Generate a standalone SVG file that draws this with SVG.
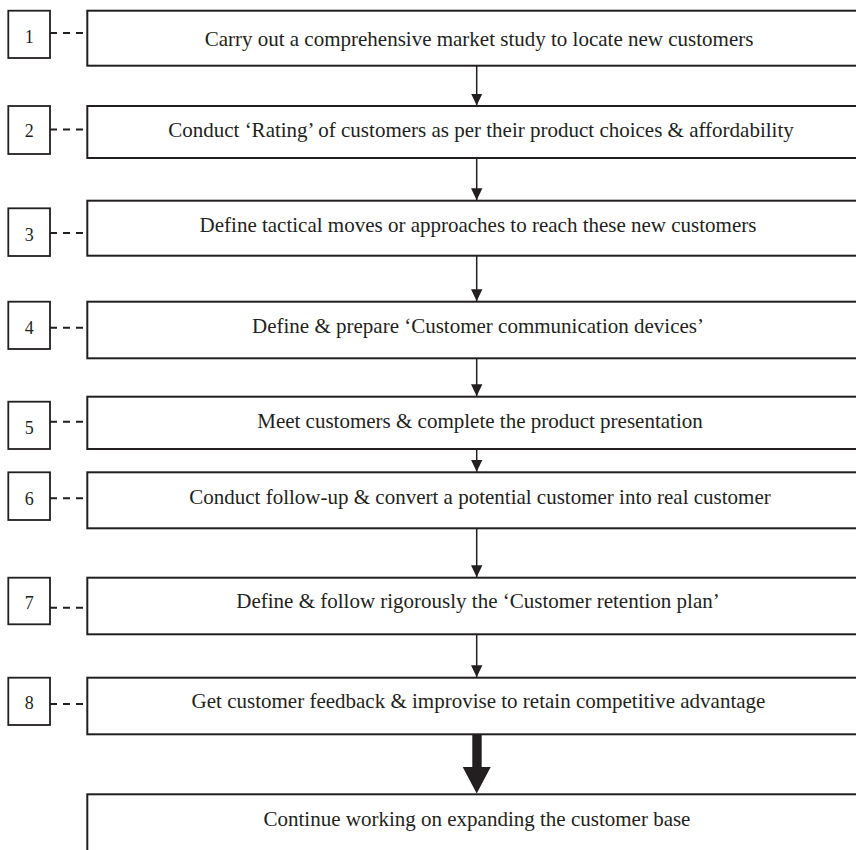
<svg xmlns="http://www.w3.org/2000/svg" width="856" height="850" viewBox="0 0 856 850">
  <style>
    .box { fill: #ffffff; stroke: #231f20; stroke-width: 2; }
    .num { fill: #ffffff; stroke: #231f20; stroke-width: 1.8; }
    .lbl { font-family: "Liberation Serif", "DejaVu Serif", serif; font-size: 21px; fill: #231f20; text-anchor: middle; }
    .nlbl { font-family: "Liberation Serif", "DejaVu Serif", serif; font-size: 18px; fill: #231f20; text-anchor: middle; }
    .dash { stroke: #231f20; stroke-width: 2; stroke-dasharray: 7 6; fill: none; }
    .flow { stroke: #231f20; stroke-width: 1.5; fill: none; marker-end: url(#head); }
  </style>
  <defs>
    <marker id="head" markerWidth="12" markerHeight="12" viewBox="0 0 12 12" refX="12" refY="6" orient="auto" markerUnits="userSpaceOnUse">
      <path d="M0,0.3 L12,6 L0,11.7 Z" fill="#231f20"/>
    </marker>
  </defs>
  <rect width="856" height="850" fill="#ffffff"/>

  <!-- connectors: dashed step-number leaders, flow arrows, final block arrow -->
  <g id="connectors">
    <line class="dash" x1="50" y1="33" x2="87" y2="33"/>
    <line class="dash" x1="50" y1="129.5" x2="87" y2="129.5"/>
    <line class="dash" x1="50" y1="233" x2="87" y2="233"/>
    <line class="dash" x1="50" y1="327.7" x2="87" y2="327.7"/>
    <line class="dash" x1="50" y1="421.7" x2="87" y2="421.7"/>
    <line class="dash" x1="50" y1="498.3" x2="87" y2="498.3"/>
    <line class="dash" x1="50" y1="607.7" x2="87" y2="607.7"/>
    <line class="dash" x1="50" y1="704" x2="87" y2="704"/>

    <line class="flow" x1="476.7" y1="65.7" x2="476.7" y2="105.5"/>
    <line class="flow" x1="476.7" y1="158" x2="476.7" y2="200.2"/>
    <line class="flow" x1="476.7" y1="255.7" x2="476.7" y2="301.2"/>
    <line class="flow" x1="476.7" y1="358.3" x2="476.7" y2="396.2"/>
    <line class="flow" x1="476.7" y1="449" x2="476.7" y2="471.8"/>
    <line class="flow" x1="476.7" y1="528.3" x2="476.7" y2="577.2"/>
    <line class="flow" x1="476.7" y1="634.3" x2="476.7" y2="677.2"/>
    <polygon points="472.3,734.3 481.7,734.3 481.7,767 490.7,767 476.7,793.5 462.7,767 472.3,767" fill="#231f20"/>
  </g>

  <g id="step1">
    <rect class="num" x="8.3" y="10.7" width="41.7" height="47.3"/>
    <text class="nlbl" x="29.2" y="43.3">1</text>
    <rect class="box" x="87.3" y="10.7" width="790" height="55"/>
    <text class="lbl" x="479" y="45.7">Carry out a comprehensive market study to locate new customers</text>
  </g>
  <g id="step2">
    <rect class="num" x="8.3" y="106" width="41.7" height="48"/>
    <text class="nlbl" x="29.2" y="136.7">2</text>
    <rect class="box" x="87.3" y="106" width="790" height="52"/>
    <text class="lbl" x="481" y="136.7">Conduct ‘Rating’ of customers as per their product choices &amp; affordability</text>
  </g>
  <g id="step3">
    <rect class="num" x="8.3" y="208.3" width="41.7" height="47.7"/>
    <text class="nlbl" x="29.2" y="241">3</text>
    <rect class="box" x="87.3" y="200.7" width="790" height="55"/>
    <text class="lbl" x="478" y="231.7">Define tactical moves or approaches to reach these new customers</text>
  </g>
  <g id="step4">
    <rect class="num" x="8.3" y="301.7" width="41.7" height="47.3"/>
    <text class="nlbl" x="29.2" y="334.3">4</text>
    <rect class="box" x="87.3" y="301.7" width="790" height="56.6"/>
    <text class="lbl" x="478" y="332.7">Define &amp; prepare ‘Customer communication devices’</text>
  </g>
  <g id="step5">
    <rect class="num" x="8.3" y="401.7" width="41.7" height="47.3"/>
    <text class="nlbl" x="29.2" y="434">5</text>
    <rect class="box" x="87.3" y="396.7" width="790" height="52.3"/>
    <text class="lbl" x="480" y="428.3">Meet customers &amp; complete the product presentation</text>
  </g>
  <g id="step6">
    <rect class="num" x="8.3" y="472.3" width="41.7" height="47.7"/>
    <text class="nlbl" x="29.2" y="505">6</text>
    <rect class="box" x="87.3" y="472.3" width="790" height="56"/>
    <text class="lbl" x="480" y="504">Conduct follow-up &amp; convert a potential customer into real customer</text>
  </g>
  <g id="step7">
    <rect class="num" x="8.3" y="577.7" width="41.7" height="46.6"/>
    <text class="nlbl" x="29.2" y="609.3">7</text>
    <rect class="box" x="87.3" y="577.7" width="790" height="56.6"/>
    <text class="lbl" x="478" y="607.7">Define &amp; follow rigorously the ‘Customer retention plan’</text>
  </g>
  <g id="step8">
    <rect class="num" x="8.3" y="677.7" width="41.7" height="47.3"/>
    <text class="nlbl" x="29.2" y="709.3">8</text>
    <rect class="box" x="87.3" y="677.7" width="790" height="56.6"/>
    <text class="lbl" x="478.5" y="707.7">Get customer feedback &amp; improvise to retain competitive advantage</text>
  </g>
  <g id="step9">
    <rect class="box" x="87.3" y="794.3" width="790" height="80"/>
    <text class="lbl" x="477" y="826">Continue working on expanding the customer base</text>
  </g>
</svg>
